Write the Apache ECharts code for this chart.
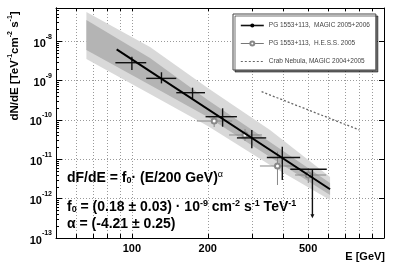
<!DOCTYPE html>
<html><head><meta charset="utf-8">
<script src="https://cdn.jsdelivr.net/npm/echarts@6/dist/echarts.min.js"></script>
<style>html,body{margin:0;padding:0;background:#fff}#c{width:399px;height:273px}</style>
</head><body><div id="c"></div>
<script>
// ---- data (E in GeV, dN/dE in TeV^-1 cm^-2 s^-1) ----
const magicE     = [100, 131, 174, 229, 299, 395];
const magicELow  = [86, 114, 150, 196, 261, 343];
const magicEHigh = [114, 150, 195, 261, 341, 465];
const magicF     = [2.85e-9, 1.14e-9, 4.93e-10, 1.21e-10, 3.5e-11, 1.11e-11];
const magicFLow  = [1.86e-9, 8.5e-10, 3.55e-10, 6.74e-11, 1.9e-11, 2.98e-12];
const magicFHigh = [4.05e-9, 1.63e-9, 6.6e-10, 1.98e-10, 5.56e-11, 2.09e-11];
const ulE = [520], ulELow = [425], ulEHigh = [593], ulF = [5.57e-12], ulArrowF = [3.17e-13];
const hessE     = [212, 281, 378, 501];
const hessELow  = [181, 243, 322, 444];
const hessEHigh = [250, 328, 444, 590];
const hessF     = [9.4e-11, 4.15e-11, 6.76e-12, 3.99e-12];
const hessFLow  = [6.6e-11, 2.92e-11, 2.22e-12, 2.5e-12];
const hessFHigh = [1.19e-10, 5.9e-11, 1.56e-11, 6.0e-12];
const fitE = [87, 611];
const fitF = [6.2e-9, 1.73e-12];
const crabE = [327, 799];
const crabF = [5.23e-10, 5.56e-11];
const bandE = [66, 118, 200, 353, 611];
const bandOuterHigh = [5.53e-8, 7.14e-9, 6.49e-10, 5.56e-11, 3.55e-12];
const bandOuterLow  = [3.54e-9, 4.56e-10, 7.0e-11, 7.16e-12, 9.25e-13];
const bandInnerHigh = [3.47e-8, 3.75e-9, 3.21e-10, 2.75e-11, 2.50e-12];
const bandInnerLow  = [6.0e-9, 7.73e-10, 1.19e-10, 1.14e-11, 1.24e-12];
const xGridValues = [50, 60, 70, 80, 90, 100, 200, 300, 400, 500, 600, 700, 800, 900, 1000];
const xLabelValues = [100, 200, 500];
const yDecades = [-13, -12, -11, -10, -9, -8];
const xMin = 50, xMax = 1000, yMin = 1e-13, yMax = 7e-8;
const NAME_MAGIC = 'PG 1553+113,  MAGIC 2005+2006';
const NAME_HESS = 'PG 1553+113,  H.E.S.S. 2005';
const NAME_CRAB = 'Crab Nebula, MAGIC 2004+2005';

const lg = Math.log10;
const yMinor = [];
yDecades.forEach(d => { for (let m = 2; m <= 9; m++) { const v = d + lg(m); if (v <= lg(yMax)) yMinor.push(v); } });

const FONT = "'Liberation Sans', Arial, sans-serif";

function bandSeries(hi, lo, color, z) {
  return {
    type: 'custom', silent: true, z: z, clip: true,
    data: bandE.map((e, i) => [lg(e), lg(hi[i]), lg(lo[i])]),
    encode: { x: 0, y: [1, 2] },
    renderItem(params, api) {
      if (params.dataIndex !== 0) return null;
      const pts = [];
      for (let i = 0; i < bandE.length; i++) pts.push(api.coord([lg(bandE[i]), lg(hi[i])]));
      for (let i = bandE.length - 1; i >= 0; i--) pts.push(api.coord([lg(bandE[i]), lg(lo[i])]));
      return { type: 'polygon', shape: { points: pts }, style: { fill: color } };
    }
  };
}

function errSeries(name, E, El, Eh, F, Fl, Fh, color, width, z) {
  return {
    type: 'custom', name: name, silent: true, z: z,
    data: E.map((e, i) => [lg(e), lg(F[i]), lg(El[i]), lg(Eh[i]), lg(Fl[i]), lg(Fh[i])]),
    encode: { x: [0, 2, 3], y: [1, 4, 5] },
    renderItem(params, api) {
      const x = api.value(0), y = api.value(1);
      const a = api.coord([api.value(2), y]), b = api.coord([api.value(3), y]);
      const c = api.coord([x, api.value(4)]), d = api.coord([x, api.value(5)]);
      const st = { stroke: color, lineWidth: width };
      return { type: 'group', children: [
        { type: 'line', shape: { x1: a[0], y1: a[1], x2: b[0], y2: b[1] }, style: st },
        { type: 'line', shape: { x1: c[0], y1: c[1], x2: d[0], y2: d[1] }, style: st }
      ] };
    }
  };
}

const ulSeries = {
  type: 'custom', silent: true, z: 5,
  data: ulE.map((e, i) => [lg(e), lg(ulF[i]), lg(ulELow[i]), lg(ulEHigh[i]), lg(ulArrowF[i])]),
  encode: { x: [0, 2, 3], y: [1, 4] },
  renderItem(params, api) {
    const x = api.value(0), y = api.value(1);
    const a = api.coord([api.value(2), y]), b = api.coord([api.value(3), y]);
    const c = api.coord([x, y]), d = api.coord([x, api.value(4)]);
    const st = { stroke: '#111', lineWidth: 1.4 };
    return { type: 'group', children: [
      { type: 'line', shape: { x1: a[0], y1: a[1], x2: b[0], y2: b[1] }, style: st },
      { type: 'line', shape: { x1: c[0], y1: c[1], x2: d[0], y2: d[1] - 3 }, style: st },
      { type: 'polygon', shape: { points: [[d[0] - 2, d[1] - 4], [d[0] + 2, d[1] - 4], [d[0], d[1]]] }, style: { fill: '#111' } }
    ] };
  }
};

const chart = echarts.init(document.getElementById('c'), null, { renderer: 'canvas' });
const gridLine = { show: true, lineStyle: { color: '#9a9a9a', type: [1, 2], width: 1 } };
const blackLine = { show: true, lineStyle: { color: '#000', width: 1 } };

const richMain = (size, bold) => ({ fontSize: size, fontWeight: bold ? 'bold' : 'normal', fontFamily: FONT, fill: '#000', lineHeight: 15, verticalAlign: 'middle' });
const richSub = { fontSize: 9, fontWeight: 'bold', fontFamily: FONT, fill: '#000', lineHeight: 8, verticalAlign: 'bottom' };
const richSup = { fontSize: 9, fontWeight: 'bold', fontFamily: FONT, fill: '#000', lineHeight: 8, verticalAlign: 'top' };

chart.setOption({
  backgroundColor: '#fff',
  animation: false,
  textStyle: { fontFamily: FONT },
  grid: { left: 56, right: 15, top: 8, bottom: 35, containLabel: false },
  xAxis: [
    { type: 'value', position: 'bottom', min: lg(xMin), max: lg(xMax),
      axisLine: blackLine,
      axisTick: { show: true, inside: true, length: 4, customValues: xGridValues.map(lg), lineStyle: { color: '#000' } },
      splitLine: gridLine,
      axisLabel: { customValues: xLabelValues.map(lg), margin: 5, fontSize: 11, fontWeight: 'bold', color: '#000', fontFamily: FONT,
        formatter: v => String(Math.round(Math.pow(10, v))) } },
    { type: 'value', position: 'top', min: lg(xMin), max: lg(xMax),
      axisLine: blackLine,
      axisTick: { show: true, inside: true, length: 3, customValues: xGridValues.map(lg), lineStyle: { color: '#000' } },
      splitLine: { show: false }, axisLabel: { show: false } }
  ],
  yAxis: [
    { type: 'value', position: 'left', min: lg(yMin), max: lg(yMax),
      axisLine: blackLine,
      axisTick: { show: true, inside: true, length: 6, customValues: yDecades, lineStyle: { color: '#000' } },
      splitLine: gridLine,
      axisLabel: { customValues: yDecades, margin: 4, color: '#000', fontFamily: FONT,
        formatter: v => '{b|10}{s|' + Math.round(v) + '}',
        rich: { b: { fontSize: 11, fontWeight: 'bold', lineHeight: 16, verticalAlign: 'bottom', fontFamily: FONT },
                s: { fontSize: 7, fontWeight: 'bold', lineHeight: 6, verticalAlign: 'top', fontFamily: FONT } } } },
    { type: 'value', position: 'left', min: lg(yMin), max: lg(yMax),
      axisLine: blackLine,
      axisTick: { show: true, inside: true, length: 3, customValues: yMinor, lineStyle: { color: '#000' } },
      splitLine: { show: false }, axisLabel: { show: false } },
    { type: 'value', position: 'right', min: lg(yMin), max: lg(yMax),
      axisLine: blackLine,
      axisTick: { show: true, inside: true, length: 5, customValues: yDecades, lineStyle: { color: '#000' } },
      splitLine: { show: false }, axisLabel: { show: false } }
  ],
  legend: {
    left: 233, top: 14, orient: 'vertical', selectedMode: false,
    backgroundColor: '#fff', borderColor: '#444', borderWidth: 1, borderRadius: 0,
    shadowColor: 'rgba(0,0,0,0.55)', shadowOffsetX: 2, shadowOffsetY: 2, shadowBlur: 0,
    padding: [8, 6, 5, 7], itemGap: 11, itemWidth: 23, itemHeight: 5,
    textStyle: { fontSize: 6.5, color: '#444', fontFamily: FONT },
    data: [
      { name: NAME_MAGIC, lineStyle: { width: 1.6, color: '#111' } },
      { name: NAME_HESS, lineStyle: { opacity: 1, width: 1, color: '#777' } },
      { name: NAME_CRAB, itemStyle: { opacity: 0 }, lineStyle: { width: 1, color: '#666', type: [2, 2] } }
    ]
  },
  series: [
    bandSeries(bandOuterHigh, bandOuterLow, '#d9d9d9', 1),
    bandSeries(bandInnerHigh, bandInnerLow, '#b4b4b4', 2),
    { type: 'line', name: NAME_CRAB, z: 3, symbol: 'none', silent: true,
      data: crabE.map((e, i) => [lg(e), lg(crabF[i])]),
      lineStyle: { color: '#666', width: 1.3, type: [2, 2] }, itemStyle: { color: '#666' } },
    errSeries('HESS errors', hessE, hessELow, hessEHigh, hessF, hessFLow, hessFHigh, '#888', 1, 4),
    { type: 'line', name: NAME_HESS, z: 4, symbol: 'emptyCircle', symbolSize: 5, silent: true,
      data: hessE.map((e, i) => [lg(e), lg(hessF[i])]),
      lineStyle: { opacity: 0, width: 0 }, itemStyle: { color: '#888', borderWidth: 1 } },
    { type: 'line', name: NAME_MAGIC, z: 5, symbol: 'circle', showSymbol: false, silent: true,
      data: fitE.map((e, i) => [lg(e), lg(fitF[i])]),
      lineStyle: { color: '#000', width: 2 }, itemStyle: { color: '#000' } },
    errSeries('MAGIC errors', magicE, magicELow, magicEHigh, magicF, magicFLow, magicFHigh, '#111', 1.4, 5),
    ulSeries
  ],
  graphic: [
    { type: 'text', x: 14, y: 66, rotation: Math.PI / 2, z: 10,
      style: { text: '{b|dN/dE [TeV}{s|-1}{b|cm}{s|-2}{b| s}{s|-1}{b|]}', align: 'center', verticalAlign: 'middle',
        rich: { b: { fontSize: 11.5, fontWeight: 'bold', fontFamily: FONT, fill: '#000', lineHeight: 14, verticalAlign: 'bottom' },
                s: { fontSize: 7, fontWeight: 'bold', fontFamily: FONT, fill: '#000', lineHeight: 6, verticalAlign: 'top' } } } },
    { type: 'text', right: 14, top: 251, z: 10,
      style: { text: 'E [GeV]', fontSize: 11, fontWeight: 'bold', fontFamily: FONT, fill: '#000' } },
    { type: 'text', x: 67, y: 178, z: 10,
      style: { text: '{m|dF/dE = f}{sub|0}{m|· (E/200 GeV)}{sup|α}', align: 'left', verticalAlign: 'middle',
        rich: { m: richMain(14, true), sub: richSub, sup: Object.assign({}, richSup, { fontWeight: 'normal' }) } } },
    { type: 'text', x: 67, y: 207, z: 10,
      style: { text: '{m|f}{sub|0}{m| = (0.18 ± 0.03) · 10}{sup|-9}{m| cm}{sup|-2}{m| s}{sup|-1}{m| TeV}{sup|-1}', align: 'left', verticalAlign: 'middle',
        rich: { m: richMain(14, true), sub: richSub, sup: richSup } } },
    { type: 'text', x: 67, y: 224, z: 10,
      style: { text: 'α = (-4.21 ± 0.25)', align: 'left', verticalAlign: 'middle',
        fontSize: 14, fontWeight: 'bold', fontFamily: FONT, fill: '#000' } }
  ]
});
</script>
</body></html>
